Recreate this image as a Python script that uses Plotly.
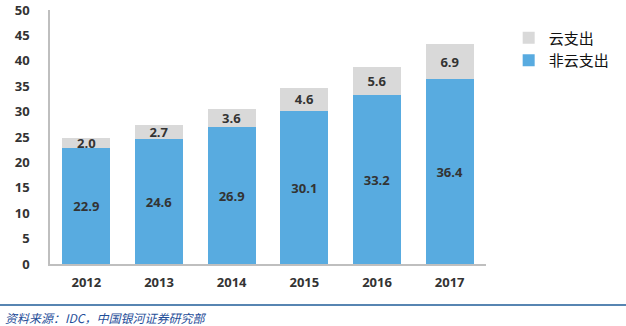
import plotly.graph_objects as go

years = ["2012", "2013", "2014", "2015", "2016", "2017"]
non_cloud = [22.9, 24.6, 26.9, 30.1, 33.2, 36.4]
cloud = [2.0, 2.7, 3.6, 4.6, 5.6, 6.9]

blue = "#58ABE0"
gray = "#D9D9D9"
txt = "#333333"
font_num = "Open Sans"

fig = go.Figure()
fig.add_trace(go.Bar(
    x=years, y=non_cloud, name="非云支出", marker=dict(color=blue, line=dict(width=0)),
    text=[f"{v:.1f}" for v in non_cloud], textposition="inside", insidetextanchor="middle",
    textfont=dict(family=font_num, size=13, color=txt, weight="bold"), textangle=0,
))
fig.add_trace(go.Bar(
    x=years, y=cloud, name="云支出", marker=dict(color=gray, line=dict(width=0)),
    text=[f"{v:.1f}" for v in cloud], textposition="inside", insidetextanchor="middle",
    textfont=dict(family=font_num, size=13, color=txt, weight="bold"), textangle=0,
))

T, B = 10, 62
plot_h = 326 - T - B

fig.update_layout(
    width=626, height=326,
    margin=dict(l=50, r=140, t=T, b=B, autoexpand=False),
    barmode="stack", bargap=0.34,
    plot_bgcolor="white", paper_bgcolor="white",
    uniformtext=dict(minsize=13, mode="show"),
    legend=dict(
        x=1.052, y=0.955, xanchor="left", yanchor="top",
        traceorder="reversed",
        font=dict(family="Noto Sans CJK SC", size=15, color="#111111"),
        bgcolor="rgba(0,0,0,0)", tracegroupgap=0,
    ),
    xaxis=dict(
        showline=True, linecolor="#BFBFBF", linewidth=1.5,
        ticks="", showgrid=False, automargin=False,
        tickfont=dict(family=font_num, size=13, color=txt, weight="bold"),
        ticklabelstandoff=6,
    ),
    yaxis=dict(
        range=[0, 50], tickvals=[0, 5, 10, 15, 20, 25, 30, 35, 40, 45, 50],
        showline=True, linecolor="#BFBFBF", linewidth=1.5, automargin=False,
        showgrid=False, zeroline=False, ticks="",
        tickfont=dict(family=font_num, size=13, color=txt, weight="bold"),
        ticklabelstandoff=16,
    ),
    font=dict(family=font_num),
)

def py(pix):
    return (326 - B - pix) / plot_h

fig.add_shape(type="line", xref="paper", yref="paper",
              x0=-0.115, x1=1.33, y0=py(305), y1=py(305),
              line=dict(color="#1F5C99", width=1.5))
fig.add_annotation(
    xref="paper", yref="paper", x=-0.108, y=py(317), xanchor="left", yanchor="middle",
    text="<i>资料来源：IDC，中国银河证券研究部</i>", showarrow=False,
    font=dict(family="Noto Sans CJK SC", size=12, color="#1F4E99"),
)

fig.write_html("out.html")
